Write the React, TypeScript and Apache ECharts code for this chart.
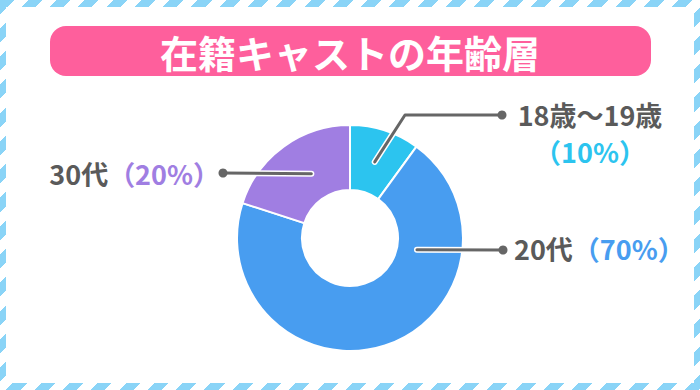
import React, { useEffect, useRef } from 'react';
import * as echarts from 'echarts';

const titleText = '在籍キャストの年齢層';
const categories = ['18歳〜19歳', '20代', '30代'];
const values = [10, 70, 20];

const sliceColors = ['#2cc4ef', '#489df0', '#a07ee2'];
const textGray = '#5a5a5a';
const lineGray = '#666666';
const FONT = '"Noto Sans CJK JP", "Noto Sans", sans-serif';

const W = 700;
const H = 390;
const CX = 350;
const CY = 238;
const R_IN = 48;
const R_OUT = 113;

// annotation layout (leader-line anchor angle in degrees clockwise from 12 o'clock)
const annot = [
  { angle: 'mid', r: 80, bend: [405, 115], dot: [502, 115], tx: 590, ty: 133, align: 'center', twoLine: true },
  { angle: 100, r: 68, bend: null, dot: [503, 250], tx: 514, ty: 248, align: 'left', twoLine: false },
  { angle: -31, r: 75, bend: null, dot: [223, 173], tx: 220, ty: 173, align: 'right', twoLine: false },
];

export default function App() {
  const ref = useRef<HTMLDivElement>(null);
  useEffect(() => {
    if (!ref.current) return;
    const chart = echarts.init(ref.current, null, { renderer: 'svg', width: W, height: H });
    const total = values.reduce((a, b) => a + b, 0);
    let acc = 0;
    const mids = values.map((v) => {
      const m = ((acc + v / 2) / total) * 360;
      acc += v;
      return m;
    });
    const graphics: any[] = [
      {
        type: 'rect',
        z: -10,
        silent: true,
        shape: { x: 6, y: 7, width: W - 12, height: H - 14 },
        style: { fill: '#ffffff' },
      },
      {
        type: 'rect',
        z: 1,
        silent: true,
        shape: { x: 50, y: 26, width: 601, height: 50, r: 16 },
        style: { fill: '#fe5f9c' },
      },
      {
        type: 'text',
        z: 2,
        silent: true,
        x: 350,
        y: 51,
        style: {
          text: titleText,
          fill: '#ffffff',
          font: `bold 38px ${FONT}`,
          align: 'center',
          verticalAlign: 'middle',
        },
      },
    ];
    annot.forEach((a, i) => {
      const ang = ((a.angle === 'mid' ? mids[i] : (a.angle as number)) * Math.PI) / 180;
      const sx = CX + a.r * Math.sin(ang);
      const sy = CY - a.r * Math.cos(ang);
      const pts: number[][] = [[sx, sy]];
      if (a.bend) pts.push(a.bend);
      pts.push(a.dot);
      graphics.push({
        type: 'polyline',
        z: 20,
        silent: true,
        shape: { points: pts },
        style: { stroke: '#ffffff', lineWidth: 6, fill: null, lineCap: 'round', lineJoin: 'round' },
      });
      graphics.push({
        type: 'polyline',
        z: 21,
        silent: true,
        shape: { points: pts },
        style: { stroke: lineGray, lineWidth: 3, fill: null, lineCap: 'round', lineJoin: 'round' },
      });
      graphics.push({
        type: 'circle',
        z: 22,
        silent: true,
        shape: { cx: a.dot[0], cy: a.dot[1], r: 4.5 },
        style: { fill: lineGray },
      });
      const pct = `（${values[i]}%）`;
      const text = a.twoLine
        ? `{n|${categories[i]}}\n{p|${pct}}`
        : `{n|${categories[i]}}{p|${pct}}`;
      graphics.push({
        type: 'text',
        z: 22,
        silent: true,
        x: a.tx,
        y: a.ty,
        style: {
          text,
          align: a.align,
          verticalAlign: 'middle',
          rich: {
            n: { font: `bold 27px ${FONT}`, fill: textGray, lineHeight: 37, align: a.align },
            p: { font: `bold 27px ${FONT}`, fill: sliceColors[i], lineHeight: 37, align: a.align },
          },
        },
      });
    });

    chart.setOption({
      animation: false,
      backgroundColor: 'transparent',
      graphic: { elements: graphics },
      series: [
        {
          type: 'pie',
          silent: true,
          center: [CX, CY],
          radius: [R_IN, R_OUT],
          startAngle: 90,
          clockwise: true,
          label: { show: false },
          labelLine: { show: false },
          emphasis: { disabled: true },
          itemStyle: { borderColor: '#ffffff', borderWidth: 2 },
          data: categories.map((c, i) => ({
            name: c,
            value: values[i],
            itemStyle: { color: sliceColors[i] },
          })),
        },
      ],
    });
    return () => chart.dispose();
  }, []);
  return (
    <div
      style={{
        position: 'absolute',
        left: 0,
        top: 0,
        width: W,
        height: H,
        background:
          'repeating-linear-gradient(135deg, #8ad4f7 0px, #8ad4f7 10px, #ffffff 10px, #ffffff 20px)',
      }}
    >
      <div ref={ref} style={{ width: W, height: H }} />
    </div>
  );
}
